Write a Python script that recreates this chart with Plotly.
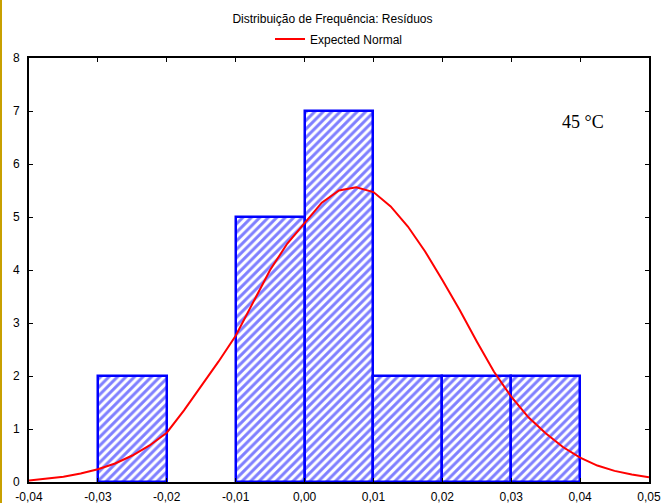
import plotly.graph_objects as go

# Histogram bins (left edges) and counts
bin_left = [-0.03, -0.02, -0.01, 0.00, 0.01, 0.02, 0.03]
counts = [2, 0, 5, 7, 2, 2, 2]
bin_width = 0.01

# Expected normal curve
curve_x = [-0.04, -0.0375, -0.035, -0.0325, -0.03, -0.0275, -0.025, -0.0225, -0.02,
           -0.0175, -0.015, -0.0125, -0.01, -0.0075, -0.005, -0.0025, 0.0, 0.0025,
           0.005, 0.0075, 0.01, 0.0125, 0.015, 0.0175, 0.02, 0.0225, 0.025, 0.0275,
           0.03, 0.0325, 0.035, 0.0375, 0.04, 0.0425, 0.045, 0.0475, 0.05]
curve_y = [0.03, 0.06, 0.10, 0.16, 0.24, 0.35, 0.50, 0.69, 0.93,
           1.35, 1.80, 2.27, 2.76, 3.38, 4.00, 4.50, 4.89, 5.27,
           5.50, 5.56, 5.47, 5.20, 4.82, 4.35, 3.81, 3.25, 2.65, 2.08,
           1.61, 1.22, 0.92, 0.66, 0.46, 0.31, 0.21, 0.14, 0.09]

x_ticks = [-0.04, -0.03, -0.02, -0.01, 0.00, 0.01, 0.02, 0.03, 0.04, 0.05]
x_tick_labels = ["-0,04", "-0,03", "-0,02", "-0,01", "0,00", "0,01", "0,02", "0,03", "0,04", "0,05"]
y_ticks = [0, 1, 2, 3, 4, 5, 6, 7, 8]

bar_x = [l + bin_width / 2 for l, c in zip(bin_left, counts) if c > 0]
bar_y = [c for c in counts if c > 0]

fig = go.Figure()
fig.add_trace(go.Bar(
    x=bar_x, y=bar_y, width=bin_width,
    marker=dict(color="white",
                line=dict(color="#0000ff", width=2.5),
                pattern=dict(shape="/", fgcolor="#0000ff", bgcolor="white",
                             size=6, solidity=0.5)),
    showlegend=False, hoverinfo="skip",
))
fig.add_trace(go.Scatter(
    x=curve_x, y=curve_y, mode="lines", name="Expected Normal",
    line=dict(color="#ff0000", width=2),
))

axis_common = dict(showline=True, linecolor="black", linewidth=2, mirror="ticks",
                   ticks="inside", ticklen=4, tickcolor="black", tickwidth=1,
                   showgrid=False, zeroline=False, automargin=False,
                   tickfont=dict(family="Liberation Sans, Arial", size=12, color="black"))

fig.update_layout(
    width=665, height=503,
    margin=dict(l=29, r=16, t=58, b=21, autoexpand=False),
    paper_bgcolor="white", plot_bgcolor="white",
    bargap=0,
    title=dict(text="Distribuição de Frequência: Resíduos", x=0.5, xanchor="center",
               y=1 - 19 / 503, yanchor="middle",
               font=dict(family="Liberation Sans, Arial", size=12, color="black")),
    legend=dict(orientation="h", x=0.5, xanchor="center", y=1 - 39 / 503, yref="container",
                yanchor="middle", font=dict(family="Liberation Sans, Arial", size=12, color="black"),
                bgcolor="rgba(0,0,0,0)"),
    xaxis=dict(range=[-0.04, 0.05], tickvals=x_ticks, ticktext=x_tick_labels,
               ticklabelstandoff=3, **axis_common),
    yaxis=dict(range=[0, 8], tickvals=y_ticks, ticklabelstandoff=5, **axis_common),
    annotations=[dict(x=583, y=122, xref="paper", yref="paper", text="45 °C", showarrow=False,
                      font=dict(family="Liberation Serif, Times New Roman", size=18, color="black"))],
    shapes=[dict(type="line", xref="paper", yref="paper", x0=-28 / 620, x1=-28 / 620,
                 y0=-21 / 424, y1=1 + 58 / 424, line=dict(color="#c8a000", width=2))],
)
# place annotation in data coordinates corresponding to the read position
fig.layout.annotations[0].update(xref="x", yref="y", x=-0.04 + (583 - 29) / 6889 * 1.0,
                                 y=(482 - 122) / 53.0)

fig.write_html("out.html")
